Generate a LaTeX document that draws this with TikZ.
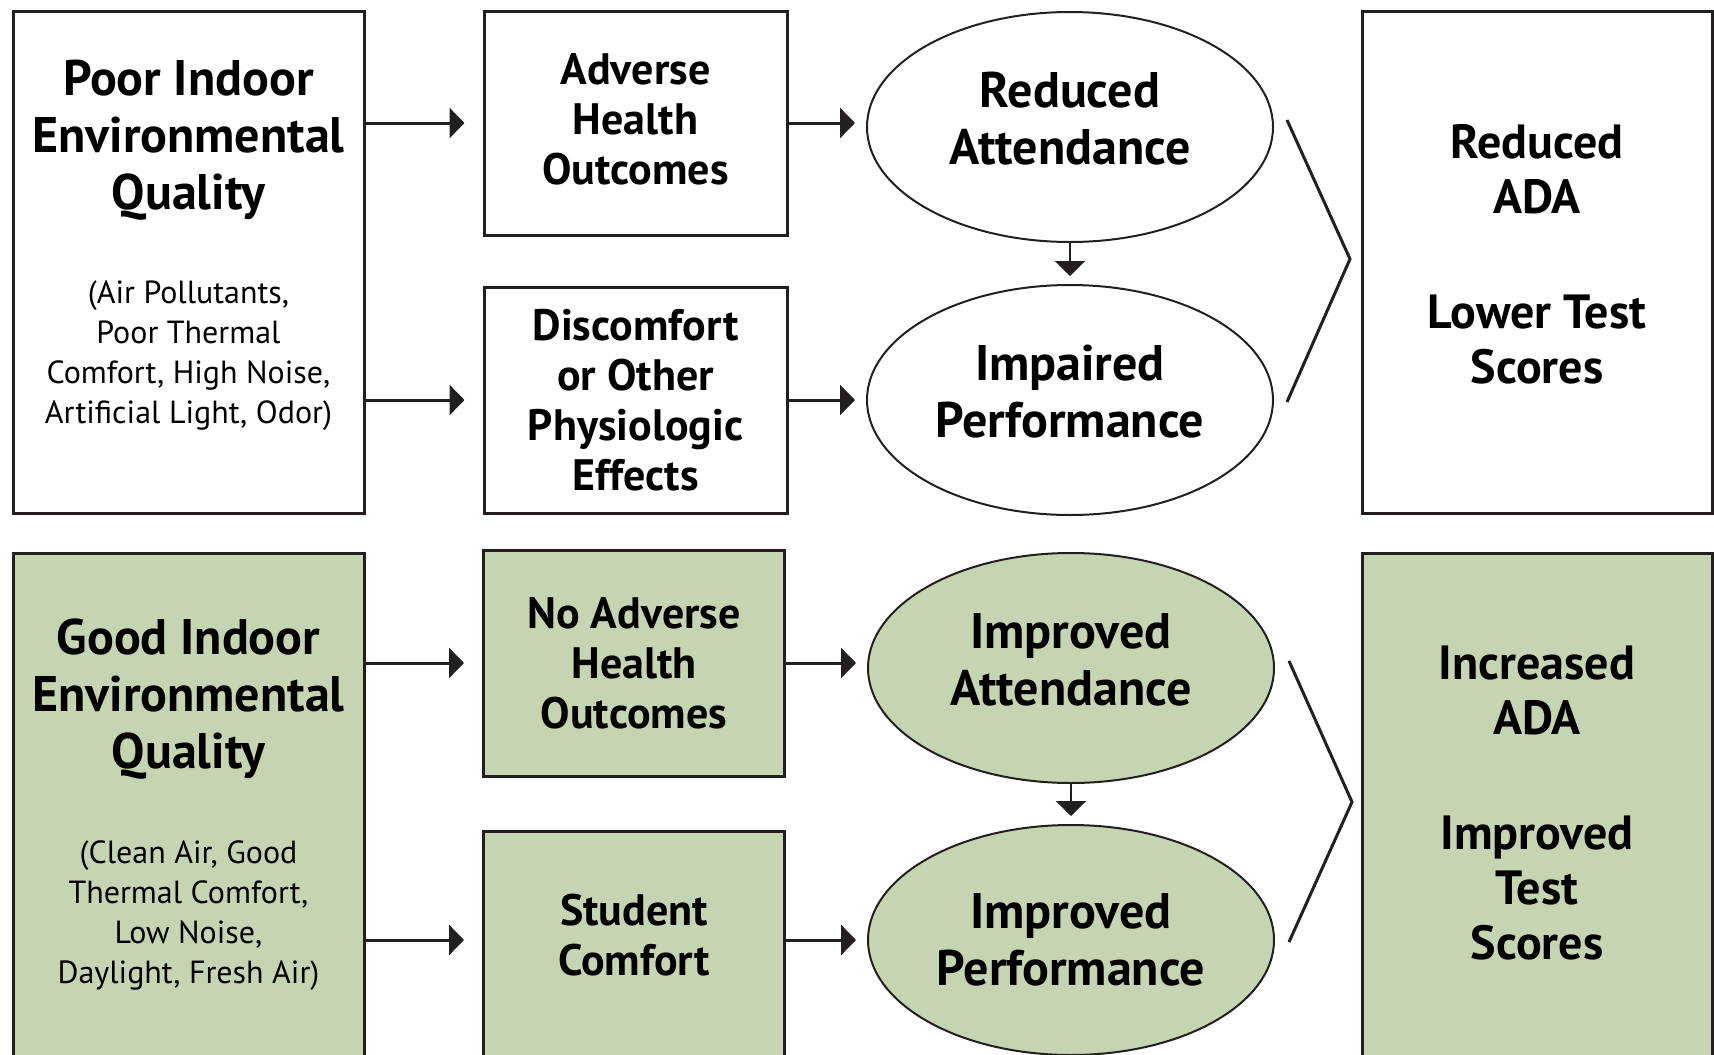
\documentclass[tikz,border=0pt]{standalone}
\usepackage{fontspec}
\setmainfont{PT Sans}
\usepackage{tikz}
\usetikzlibrary{arrows.meta,shapes.geometric}
\definecolor{leaf}{HTML}{C6D5B1}
\definecolor{ink}{HTML}{231F20}

\begin{document}
\begin{tikzpicture}[x=1pt,y=-1pt]
            \tikzstyle{box}=[draw=ink, line width=3pt, inner sep=0pt, align=center, font=\bfseries\fontsize{44}{50}\selectfont]
            \tikzstyle{oval}=[ellipse, draw=ink, line width=2pt, inner sep=0pt, minimum width=406pt, minimum height=230pt, align=center, font=\bfseries\fontsize{50}{57}\selectfont]
            \tikzstyle{good}=[fill=leaf]
            \tikzstyle{lift}=[text depth=18pt]
            \tikzstyle{head}=[align=center, font=\bfseries\fontsize{50}{57}\selectfont]
            \tikzstyle{note}=[align=center, font=\fontsize{32}{40}\selectfont]
            \tikzstyle{result}=[align=center, font=\bfseries\fontsize{48}{55}\selectfont]
            \tikzstyle{link}=[draw=ink, line width=3pt, -{Triangle[length=15pt,width=30pt]}]
            \tikzstyle{brace}=[draw=ink, line width=3pt, line join=miter]

            \useasboundingbox (0,0) rectangle (1714,1055);
            \clip (0,0) rectangle (1714,1055);

            % poor quality row
            \node[box, minimum width=351pt, minimum height=502pt] (poor) at (188.5,262) {};
            \node[head] (poorhead) at (188.5,140) {Poor Indoor\\Environmental\\Quality};
            \node[note] (poornote) at (188.5,356) {(Air Pollutants,\\Poor Thermal\\Comfort, High Noise,\\Artificial Light, Odor)};
            \node[box, text depth=9pt, minimum width=303pt, minimum height=224pt] (adverse) at (635.5,123) {Adverse\\Health\\Outcomes};
            \node[box, minimum width=303pt, minimum height=226pt] (discomfort) at (635.5,400) {Discomfort\\or Other\\Physiologic\\Effects};
            \node[oval, lift] (reduced) at (1070,127) {Reduced\\Attendance};
            \node[oval, lift] (impaired) at (1070,400) {Impaired\\Performance};
            \node[box, minimum width=350pt, minimum height=502pt] (less) at (1537,262) {};
            \node[result] (lesstxt) at (1537,254) {Reduced\\ADA\\[60pt]Lower Test\\Scores};

            % good quality row
            \node[box, good, minimum width=351pt, minimum height=547pt] (goodq) at (188.5,826.5) {};
            \node[head] (goodhead) at (188.5,699) {Good Indoor\\Environmental\\Quality};
            \node[note] (goodnote) at (188.5,916) {(Clean Air, Good\\Thermal Comfort,\\Low Noise,\\Daylight, Fresh Air)};
            \node[box, good, minimum width=301pt, minimum height=226pt] (noadverse) at (634,663) {No Adverse\\Health\\Outcomes};
            \node[box, good, text depth=22pt, minimum width=301pt, minimum height=230pt] (comfort) at (634,946) {Student\\Comfort};
            \node[oval, lift, good] (betteratt) at (1071,668) {Improved\\Attendance};
            \node[oval, good] (betterperf) at (1071,940) {Improved\\Performance};
            \node[box, good, minimum width=350pt, minimum height=547pt] (more) at (1537,826.5) {};
            \node[result] (moretxt) at (1537,803) {Increased\\ADA\\[60pt]Improved\\Test\\Scores};

            % arrows
            \draw[link, shorten >=18pt] (poor.east |- adverse.west) -- (adverse.west);
            \draw[link, shorten >=18pt] (poor.east |- discomfort.west) -- (discomfort.west);
            \draw[link, shorten >=11pt] (adverse.east) -- (adverse.east -| reduced.west);
            \draw[link, shorten >=11pt] (discomfort.east) -- (impaired.west);
            \draw[link, line width=2.5pt, shorten >=8pt] (reduced.south) -- (impaired.north);

            \draw[link, shorten >=18pt] (goodq.east |- noadverse.west) -- (noadverse.west);
            \draw[link, shorten >=18pt] (goodq.east |- betterperf.west) -- (goodq.east |- betterperf.west -| comfort.west);
            \draw[link, shorten >=11pt] (noadverse.east) -- (noadverse.east -| betteratt.west);
            \draw[link, shorten >=11pt] (comfort.east |- betterperf.west) -- (betterperf.west);
            \draw[link, line width=2.5pt, shorten >=8pt] (betteratt.south) -- (betterperf.north);

            % braces
            \draw[brace] (1287,120) -- (1350,259) -- (1287,402);
            \draw[brace] (1289,661) -- (1352,802) -- (1289,942);
\end{tikzpicture}
\end{document}
